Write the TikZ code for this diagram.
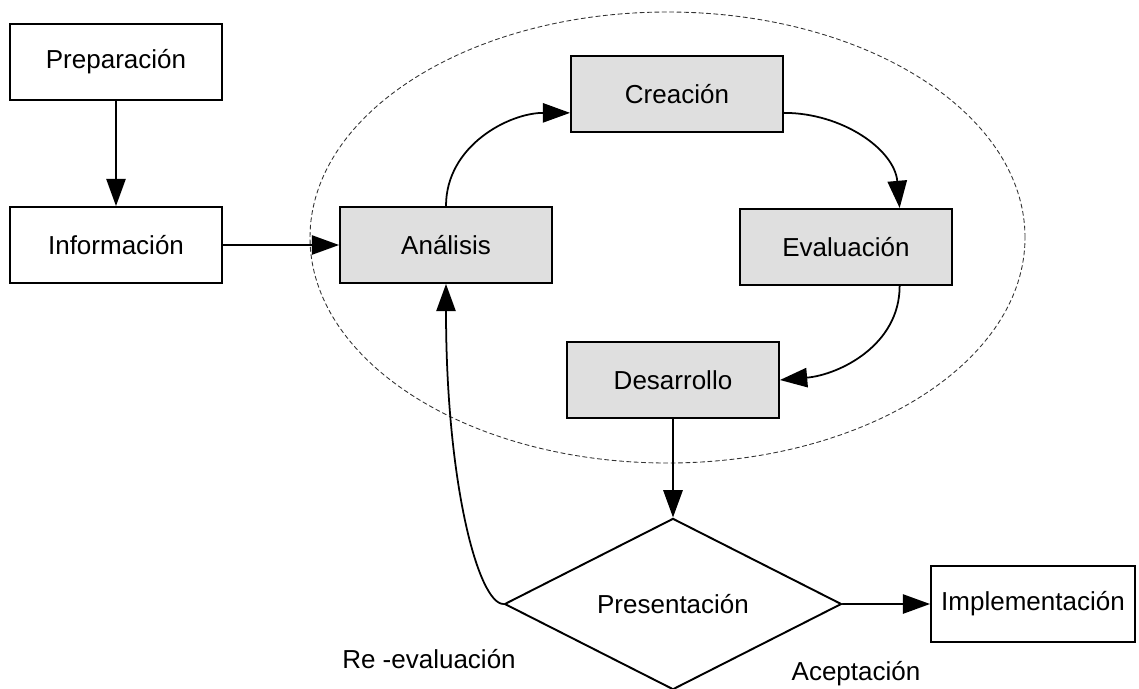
\documentclass[tikz,border=0pt]{standalone}
\usepackage{fontspec}
\setmainfont{Liberation Sans}
\usetikzlibrary{shapes.geometric,arrows.meta,calc}
\begin{document}
\begin{tikzpicture}[line cap=round, font=\fontsize{14.8}{17.5}\selectfont]
  \tikzset{paso/.style={draw, line width=1.1pt, minimum width=4.24cm, minimum height=1.52cm, inner sep=0pt},
    pasoG/.style={paso, fill=gray!25},
    decision/.style={diamond, draw, line width=1.1pt, minimum width=6.74cm, minimum height=3.28cm, inner sep=0pt},
    flecha/.style={line width=1pt, -{Triangle[length=15.5pt,width=11pt]}}}
  \useasboundingbox (0,0) rectangle (22.78,-13.76);
  % ciclo
  \draw[black!80, line width=0.5pt, dash pattern=on 2.4pt off 1.8pt] (13.35,-4.75) ellipse [x radius=7.15cm, y radius=4.51cm];
  % cajas
  \node[paso] (prep) at (2.32,-1.24) {Preparación};
  \node[paso] (info) at (2.32,-4.90) {Información};
  \node[pasoG] (anal) at (8.92,-4.90) {Análisis};
  \node[pasoG] (crea) at (13.54,-1.88) {Creación};
  \node[pasoG] (eval) at (16.92,-4.94) {Evaluación};
  \node[pasoG] (desa) at (13.46,-7.60) {Desarrollo};
  \node[decision] (pres) at (13.46,-12.08) {Presentación};
  \node[paso, minimum width=4.08cm] (impl) at (20.66,-12.08) {Implementación};
  % etiquetas
  \node (reeval) at (8.58,-13.18) {Re -evaluación};
  \node (acep) at (17.12,-13.48) {Aceptación};
  % flechas
  \draw[flecha] (prep) -- (info);
  \draw[flecha] (info) -- (anal);
  \draw[flecha] (anal.north) to[out=90,in=180] (crea.190);
  \draw[flecha] (crea.-10) to[out=0,in=95] (eval.36);
  \draw[flecha] (eval.-36) to[out=-90,in=5] (desa.east);
  \draw[flecha] (desa) -- (pres);
  \draw[flecha] (pres) -- (impl);
  \draw[flecha] (pres.west) .. controls +(-0.5,0) and +(0,-4.0) .. (anal.south);
\end{tikzpicture}
\end{document}
